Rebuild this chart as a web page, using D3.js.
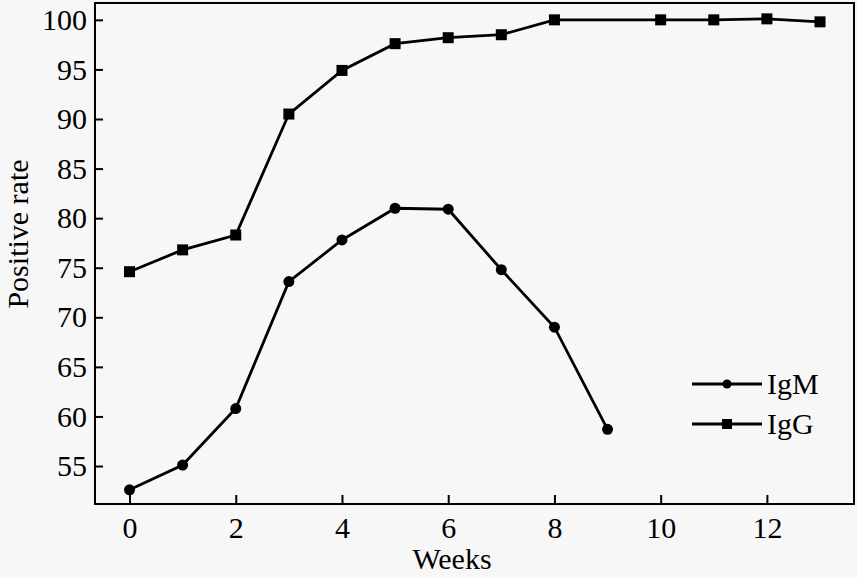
<!DOCTYPE html>
<html><head><meta charset="utf-8">
<script src="https://cdn.jsdelivr.net/npm/d3@7"></script>
<style>body{margin:0;background:#f7f7f7;}svg{display:block;}</style>
</head><body><svg id="c" width="857" height="578"></svg>
<script>
const weeksIgM = [0,1,2,3,4,5,6,7,8,9];
const valuesIgM = [52.6,55.1,60.8,73.6,77.8,81.0,80.9,74.8,69.0,58.7];
const weeksIgG = [0,1,2,3,4,5,6,7,8,10,11,12,13];
const valuesIgG = [74.6,76.8,78.3,90.5,94.9,97.6,98.2,98.5,100,100,100,100.1,99.8];
const xTicks = [0,2,4,6,8,10,12];
const yTicks = [55,60,65,70,75,80,85,90,95,100];
const seriesNames = ["IgM","IgG"];

const svg = d3.select("#c");
const L=95,R=854,T=3,B=504;
const x = d3.scaleLinear().domain([-0.65,13.64]).range([L,R]);
const y = d3.scaleLinear().domain([51.17,101.7]).range([B,T]);
const font = "'Liberation Serif','Times New Roman',serif";

svg.append("rect").attr("width",857).attr("height",578).attr("fill","#f7f7f7");

const xa = svg.append("g").attr("transform",`translate(0,${B})`)
  .call(d3.axisBottom(x).tickValues(xTicks).tickSize(-9).tickPadding(13).tickFormat(d3.format("d")));
const ya = svg.append("g").attr("transform",`translate(${L},0)`)
  .call(d3.axisLeft(y).tickValues(yTicks).tickSize(-8).tickPadding(8).tickFormat(d3.format("d")));
[xa,ya].forEach(a=>{
  a.select(".domain").remove();
  a.selectAll("line").attr("stroke","#000").attr("stroke-width",2);
  a.selectAll("text").attr("font-family",font).attr("font-size",30).attr("fill","#000");
});
svg.append("rect").attr("x",L).attr("y",T).attr("width",R-L).attr("height",B-T)
  .attr("fill","none").attr("stroke","#000").attr("stroke-width",2);

const line = d3.line().x(d=>x(d[0])).y(d=>y(d[1]));
const igm = weeksIgM.map((w,i)=>[w,valuesIgM[i]]);
const igg = weeksIgG.map((w,i)=>[w,valuesIgG[i]]);
svg.append("path").datum(igm).attr("d",line).attr("fill","none").attr("stroke","#000").attr("stroke-width",2.8);
svg.append("path").datum(igg).attr("d",line).attr("fill","none").attr("stroke","#000").attr("stroke-width",2.8);
svg.selectAll(".cm").data(igm).enter().append("circle")
  .attr("cx",d=>x(d[0])).attr("cy",d=>y(d[1])).attr("r",5.5).attr("fill","#000");
svg.selectAll(".sm").data(igg).enter().append("rect")
  .attr("x",d=>x(d[0])-5.5).attr("y",d=>y(d[1])-5.5).attr("width",11).attr("height",11).attr("fill","#000");

// legend
const lg = svg.append("g");
seriesNames.forEach((n,i)=>{
  const yy = 384 + i*40;
  lg.append("line").attr("x1",692).attr("x2",762).attr("y1",yy).attr("y2",yy).attr("stroke","#000").attr("stroke-width",2.8);
  if(i===0) lg.append("circle").attr("cx",727).attr("cy",yy).attr("r",4.5).attr("fill","#000");
  else lg.append("rect").attr("x",722).attr("y",yy-5).attr("width",10).attr("height",10).attr("fill","#000");
  lg.append("text").attr("x",767).attr("y",yy+10).attr("font-family",font).attr("font-size",30).text(n);
});

svg.append("text").attr("x",452).attr("y",569).attr("text-anchor","middle")
  .attr("font-family",font).attr("font-size",30).text("Weeks");
svg.append("text").attr("transform",`translate(28,234) rotate(-90)`).attr("text-anchor","middle")
  .attr("font-family",font).attr("font-size",30).text("Positive rate");
</script></body></html>
